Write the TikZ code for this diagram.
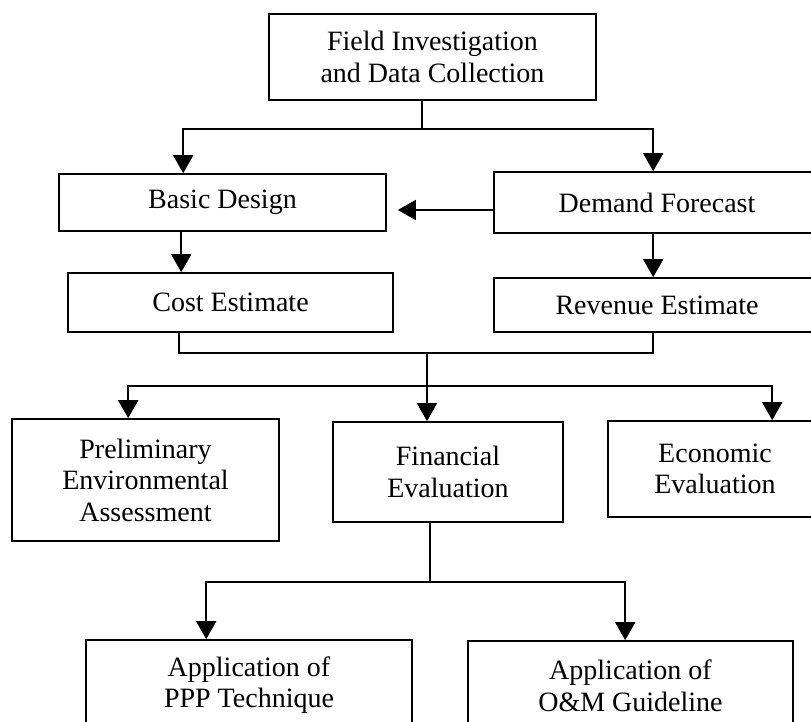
\documentclass[tikz,border=0pt]{standalone}
\usepackage{fontspec}
\setmainfont{Liberation Serif}
\usetikzlibrary{arrows.meta}
\begin{document}
\begin{tikzpicture}[x=1pt,y=-1pt,
  box/.style={draw,line width=1.6pt,inner sep=0pt,align=center,
    font=\fontsize{28}{31.5}\selectfont},
  link/.style={line width=1.6pt},
  arr/.style={link,-{Triangle[width=20pt,length=18pt]}}]
\useasboundingbox (0,0) rectangle (811,722);
\clip (0,0) rectangle (811,722);
\fill[white] (0,0) rectangle (811,722);
% boxes
\node[box,minimum width=327pt,minimum height=86pt] (top) at (432.5,57)
  {Field Investigation\\and Data Collection};
\node[box,minimum width=327pt,minimum height=57pt] (basic) at (222.5,202.5) {Basic Design};
\node[box,minimum width=326pt,minimum height=61pt] (demand) at (657,202.5) {Demand Forecast};
\node[box,minimum width=325pt,minimum height=59pt] (cost) at (230.5,302.5) {Cost Estimate};
\node[box,minimum width=326pt,minimum height=54pt] (revenue) at (657,305) {Revenue Estimate};
\node[box,minimum width=267pt,minimum height=122pt] (prelim) at (145.5,480)
  {Preliminary\\Environmental\\Assessment};
\node[box,minimum width=230pt,minimum height=100pt] (fin) at (448,472)
  {Financial\\Evaluation};
\node[box,minimum width=214pt,minimum height=96pt] (econ) at (715,469)
  {Economic\\Evaluation};
\node[box,minimum width=326pt,minimum height=90pt] (ppp) at (249,685)
  {Application of\\PPP Technique};
\node[box,minimum width=325pt,minimum height=90pt] (om) at (630.5,686)
  {Application of\\O\&M Guideline};
% junctions
\coordinate (j1) at (422,129);
\coordinate (j2) at (427,353);
\coordinate (j3) at (427,386);
\coordinate (j4) at (430,582);
% top split
\draw[link] (top.south -| j1) -- (j1);
\draw[arr] (j1) -| ([xshift=125]basic.north west);
\draw[arr] (j1) -| ([xshift=160]demand.north west);
% demand -> basic
\draw[arr] ([yshift=-7.5]demand.west) -- ([xshift=11,yshift=-7.5]basic.east);
% basic -> cost, demand -> revenue
\coordinate (c1) at ([xshift=123]basic.south west);
\draw[arr] (c1) -- (c1 |- cost.north);
\coordinate (c2) at ([xshift=160]demand.south west);
\draw[arr] (c2) -- (c2 |- revenue.north);
% merge
\coordinate (c3) at ([xshift=112]cost.south west);
\coordinate (r1) at ([xshift=160]revenue.south west);
\draw[link] (c3) |- (j2) -| (r1);
\draw[link] (j2) -- (j3);
% three evaluations
\draw[arr] (j3) -| ([xshift=117]prelim.north west);
\draw[arr] (j3) -- (j3 |- fin.north);
\draw[arr] (j3) -| ([xshift=165]econ.north west);
% financial split
\draw[link] (j4 |- fin.south) -- (j4);
\draw[arr] (j4) -| ([xshift=121]ppp.north west);
\draw[arr] (j4) -| ([xshift=158]om.north west);
\end{tikzpicture}
\end{document}
